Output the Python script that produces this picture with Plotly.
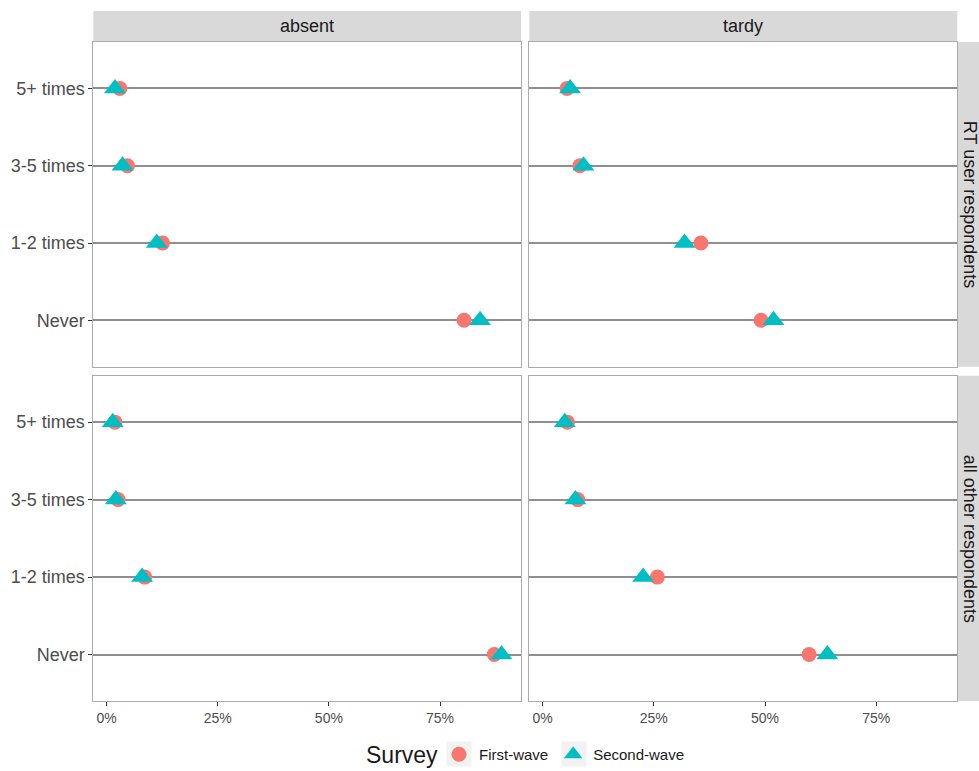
import plotly.graph_objects as go

# Response categories (bottom to top on the y axis)
categories = ["Never", "1-2 times", "3-5 times", "5+ times"]

# Share of respondents per category, by survey wave
absent_rt_first = [0.804, 0.126, 0.047, 0.030]
absent_rt_second = [0.840, 0.113, 0.036, 0.019]
tardy_rt_first = [0.491, 0.356, 0.084, 0.055]
tardy_rt_second = [0.519, 0.319, 0.092, 0.062]
absent_other_first = [0.872, 0.086, 0.026, 0.019]
absent_other_second = [0.888, 0.080, 0.021, 0.014]
tardy_other_first = [0.599, 0.258, 0.079, 0.056]
tardy_other_second = [0.640, 0.226, 0.074, 0.050]

col_labels = ["absent", "tardy"]
row_labels = ["RT user respondents", "all other respondents"]
wave_names = ["First-wave", "Second-wave"]
legend_title = "Survey"
x_tickvals = [0, 0.25, 0.5, 0.75]
x_ticktext = ["0%", "25%", "50%", "75%"]

W, H = 979, 771
FONT = "Liberation Sans, Arial, sans-serif"

# panel pixel boxes (left, right, top, bottom)
col_px = [(93.3, 521.0), (529.3, 957.3)]
row_px = [(42.0, 366.7), (375.7, 701.0)]


def fx(px):
    return px / W


def fy(py):
    return 1 - py / H


panels = [
    (0, 0, absent_rt_first, absent_rt_second),
    (0, 1, tardy_rt_first, tardy_rt_second),
    (1, 0, absent_other_first, absent_other_second),
    (1, 1, tardy_other_first, tardy_other_second),
]

fig = go.Figure()
layout = dict(
    width=W, height=H,
    margin=dict(l=0, r=0, t=0, b=0),
    paper_bgcolor="white", plot_bgcolor="white",
    font=dict(family=FONT, color="#1a1a1a"),
    showlegend=True,
)

for i, (r, c, first, second) in enumerate(panels):
    n = i + 1
    xa = "x" if n == 1 else f"x{n}"
    ya = "y" if n == 1 else f"y{n}"
    for vals, name, sym, size, color in [
        (first, wave_names[0], "circle", 15, "#F8766D"),
        (second, wave_names[1], "triangle-up", 19, "#00BFC4"),
    ]:
        fig.add_trace(go.Scatter(
            x=vals, y=categories, mode="markers", name=name,
            legendgroup=name, showlegend=(n == 1),
            marker=dict(symbol=sym, size=size, color=color, line=dict(width=0)),
            xaxis=xa, yaxis=ya,
        ))
    x0, x1 = col_px[c]
    y0, y1 = row_px[r]
    layout[f"xaxis{'' if n == 1 else n}"] = dict(
        domain=[fx(x0), fx(x1)], anchor=ya,
        range=[-0.0297, 0.932], showgrid=False, zeroline=False,
        tickvals=x_tickvals, ticktext=x_ticktext if r == 1 else None,
        showticklabels=(r == 1),
        ticks="outside" if r == 1 else "", ticklen=4, tickcolor="#333333",
        tickfont=dict(size=14, color="#4d4d4d", family=FONT),
        showline=True, linecolor="#ababab", linewidth=1, mirror=True,
        fixedrange=True,
    )
    layout[f"yaxis{'' if n == 1 else n}"] = dict(
        domain=[fy(y1), fy(y0)], anchor=xa,
        type="category", categoryorder="array", categoryarray=categories,
        range=[-0.6, 3.6],
        showgrid=True, gridcolor="#8f8f8f", gridwidth=1.5, zeroline=False,
        showticklabels=(c == 0),
        ticks="outside" if c == 0 else "", ticklen=4, tickcolor="#333333",
        tickfont=dict(size=18, color="#4d4d4d", family=FONT),
        showline=True, linecolor="#ababab", linewidth=1, mirror=True,
        fixedrange=True,
    )

shapes = []
annotations = []
# column strips
for c, lab in enumerate(col_labels):
    x0, x1 = col_px[c]
    shapes.append(dict(type="rect", xref="paper", yref="paper",
                       x0=fx(x0), x1=fx(x1), y0=fy(42.0), y1=fy(11.0),
                       fillcolor="#d9d9d9", line=dict(width=0), layer="below"))
    annotations.append(dict(text=lab, xref="paper", yref="paper",
                            x=fx((x0 + x1) / 2), y=fy(26.5), showarrow=False,
                            xanchor="center", yanchor="middle",
                            font=dict(size=18, color="#1a1a1a", family=FONT)))
# row strips
for r, lab in enumerate(row_labels):
    y0, y1 = row_px[r]
    shapes.append(dict(type="rect", xref="paper", yref="paper",
                       x0=fx(957.3), x1=fx(981), y0=fy(y1), y1=fy(y0),
                       fillcolor="#d9d9d9", line=dict(width=0), layer="below"))
    annotations.append(dict(text=lab, xref="paper", yref="paper",
                            x=fx(969.5), y=fy((y0 + y1) / 2), showarrow=False,
                            textangle=90, xanchor="center", yanchor="middle",
                            font=dict(size=18, color="#1a1a1a", family=FONT)))

# legend title and key backgrounds
LEG_CY = 754
annotations.append(dict(text=legend_title, xref="paper", yref="paper",
                        x=fx(364), y=fy(LEG_CY + 1), showarrow=False,
                        xanchor="left", yanchor="middle",
                        font=dict(size=23, color="#1a1a1a", family=FONT)))
LEG_LEFT = 439
for cx in (459, 574):
    shapes.append(dict(type="rect", xref="paper", yref="paper",
                       x0=fx(cx - 12.5), x1=fx(cx + 12.5),
                       y0=fy(LEG_CY + 12.5), y1=fy(LEG_CY - 12.5),
                       fillcolor="#f2f2f2", line=dict(width=0), layer="above"))

layout["shapes"] = shapes
layout["annotations"] = annotations
layout["legend"] = dict(
    orientation="h", x=fx(LEG_LEFT), xanchor="left", y=0, yanchor="bottom",
    font=dict(size=15, color="#1a1a1a", family=FONT),
    bgcolor="rgba(0,0,0,0)", itemsizing="trace",
)
fig.update_layout(**layout)
fig.write_html("out.html")
